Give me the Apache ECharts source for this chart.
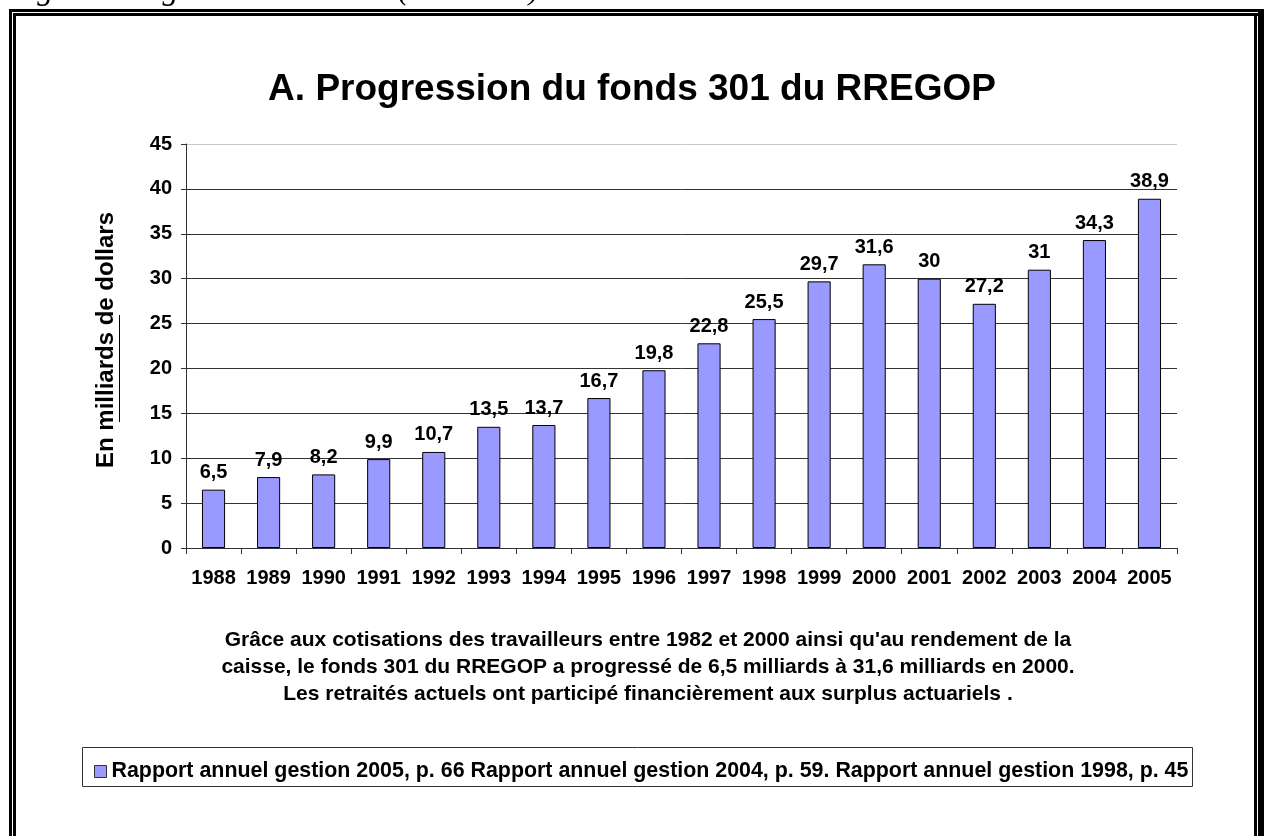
<!DOCTYPE html>
<html>
<head>
<meta charset="utf-8">
<script src="https://cdn.jsdelivr.net/npm/echarts@6/dist/echarts.min.js"></script>
<style>
html, body { margin: 0; padding: 0; background: #fff; }
#main { width: 1264px; height: 836px; }
</style>
</head>
<body>
<div id="main"></div>
<script>
var years = ['1988', '1989', '1990', '1991', '1992', '1993', '1994', '1995', '1996',
             '1997', '1998', '1999', '2000', '2001', '2002', '2003', '2004', '2005'];
var fonds = [6.5, 7.9, 8.2, 9.9, 10.7, 13.5, 13.7, 16.7, 19.8,
             22.8, 25.5, 29.7, 31.6, 30, 27.2, 31, 34.3, 38.9];
var yMin = 0, yMax = 45, yStep = 5;

var titre = 'A. Progression du fonds 301 du RREGOP';
var nomAxe = 'En milliards de dollars';
var legende = 'Rapport annuel gestion 2005, p. 66 Rapport annuel gestion 2004, p. 59. Rapport annuel gestion 1998, p. 45';
var note = [
    "Grâce aux cotisations des travailleurs entre 1982 et 2000 ainsi qu'au rendement de la",
    'caisse, le fonds 301 du RREGOP a progressé de 6,5 milliards à 31,6 milliards en 2000.',
    'Les retraités actuels ont participé financièrement aux surplus actuariels .'
];
var enTete = 'programmes gouvernementaux (tableau 8)';

var police = 'Arial, "Liberation Sans", sans-serif';
var virgule = function (v) { return String(v).replace('.', ','); };

// grid lines: dark except the top one
var couleursGrille = [];
for (var i = yMin; i <= yMax; i += yStep) {
    couleursGrille.push(i === yMax ? '#c8c8c8' : '#333');
}

var dom = document.getElementById('main');
var myChart = echarts.init(dom);
var option = {
    backgroundColor: '#fff',
    animation: false,
    title: {
        text: titre,
        left: 'center',
        top: 66,
        textStyle: { fontFamily: police, fontSize: 37, fontWeight: 'bold', color: '#000' }
    },
    grid: { left: 186, right: 87, top: 144, bottom: 288 },
    legend: {
        data: ['Rapport'],
        left: 89,
        top: 756,
        itemWidth: 12,
        itemHeight: 12,
        itemGap: 6,
        icon: 'rect',
        itemStyle: { borderColor: '#333', borderWidth: 1 },
        formatter: function () { return legende; },
        textStyle: { fontFamily: police, fontSize: 21.4, fontWeight: 'bold', color: '#000' }
    },
    xAxis: {
        type: 'category',
        data: years,
        axisLine: { lineStyle: { color: '#333', width: 1 } },
        axisTick: { show: true, alignWithLabel: false, length: 6, lineStyle: { color: '#333' } },
        axisLabel: { interval: 0, margin: 20, fontFamily: police, fontSize: 20, fontWeight: 'bold', color: '#000' }
    },
    yAxis: {
        type: 'value',
        min: yMin,
        max: yMax,
        interval: yStep,
        axisLine: { show: true, lineStyle: { color: '#333', width: 1 } },
        axisTick: { show: true, length: 5, lineStyle: { color: '#333' } },
        axisLabel: { margin: 14, fontFamily: police, fontSize: 20, fontWeight: 'bold', color: '#000' },
        splitLine: { show: true, lineStyle: { color: couleursGrille, width: 1 } }
    },
    series: [{
        name: 'Rapport',
        type: 'bar',
        data: fonds,
        barWidth: '42%',
        itemStyle: { color: '#9999ff', borderColor: '#000', borderWidth: 1 },
        label: {
            show: true,
            position: 'top',
            distance: 7,
            formatter: function (p) { return virgule(p.value); },
            fontFamily: police,
            fontSize: 20,
            fontWeight: 'bold',
            color: '#000'
        }
    }],
    graphic: [
        // clipped heading from the page above
        { type: 'text', x: -6, y: 7, silent: true,
          style: { text: enTete, font: 'italic 32px "Liberation Serif", serif',
                   fill: '#000', verticalAlign: 'bottom' } },
        // double frame
        { type: 'rect', shape: { x: 9, y: 9, width: 3, height: 830 }, style: { fill: '#000' } },
        { type: 'rect', shape: { x: 13, y: 13, width: 3, height: 830 }, style: { fill: '#000' } },
        { type: 'rect', shape: { x: 9, y: 9, width: 1260, height: 3 }, style: { fill: '#000' } },
        { type: 'rect', shape: { x: 13, y: 13, width: 1260, height: 3 }, style: { fill: '#000' } },
        { type: 'rect', shape: { x: 1254, y: 13, width: 3, height: 830 }, style: { fill: '#000' } },
        { type: 'rect', shape: { x: 1258, y: 9, width: 6, height: 830 }, style: { fill: '#000' } },
        // y axis name with underlined "milliards"
        { type: 'text', x: 106, y: 340, rotation: Math.PI / 2, silent: true,
          style: { text: nomAxe, font: 'bold 24px ' + police, fill: '#000', align: 'center', verticalAlign: 'middle' } },
        { type: 'line', shape: { x1: 119.5, y1: 315, x2: 119.5, y2: 422 }, style: { stroke: '#000', lineWidth: 1 } },
        // caption
        { type: 'text', x: 648, y: 667, silent: true,
          style: { text: note.join('\n'), font: 'bold 21px ' + police, fill: '#000', align: 'center', verticalAlign: 'middle', lineHeight: 27 } },
        // legend frame
        { type: 'rect', shape: { x: 82.5, y: 747.5, width: 1110, height: 39 }, style: { fill: 'none', stroke: '#333', lineWidth: 1 } }
    ]
};

if (option && typeof option === 'object') {
    myChart.setOption(option, true);
}
</script>
</body>
</html>
